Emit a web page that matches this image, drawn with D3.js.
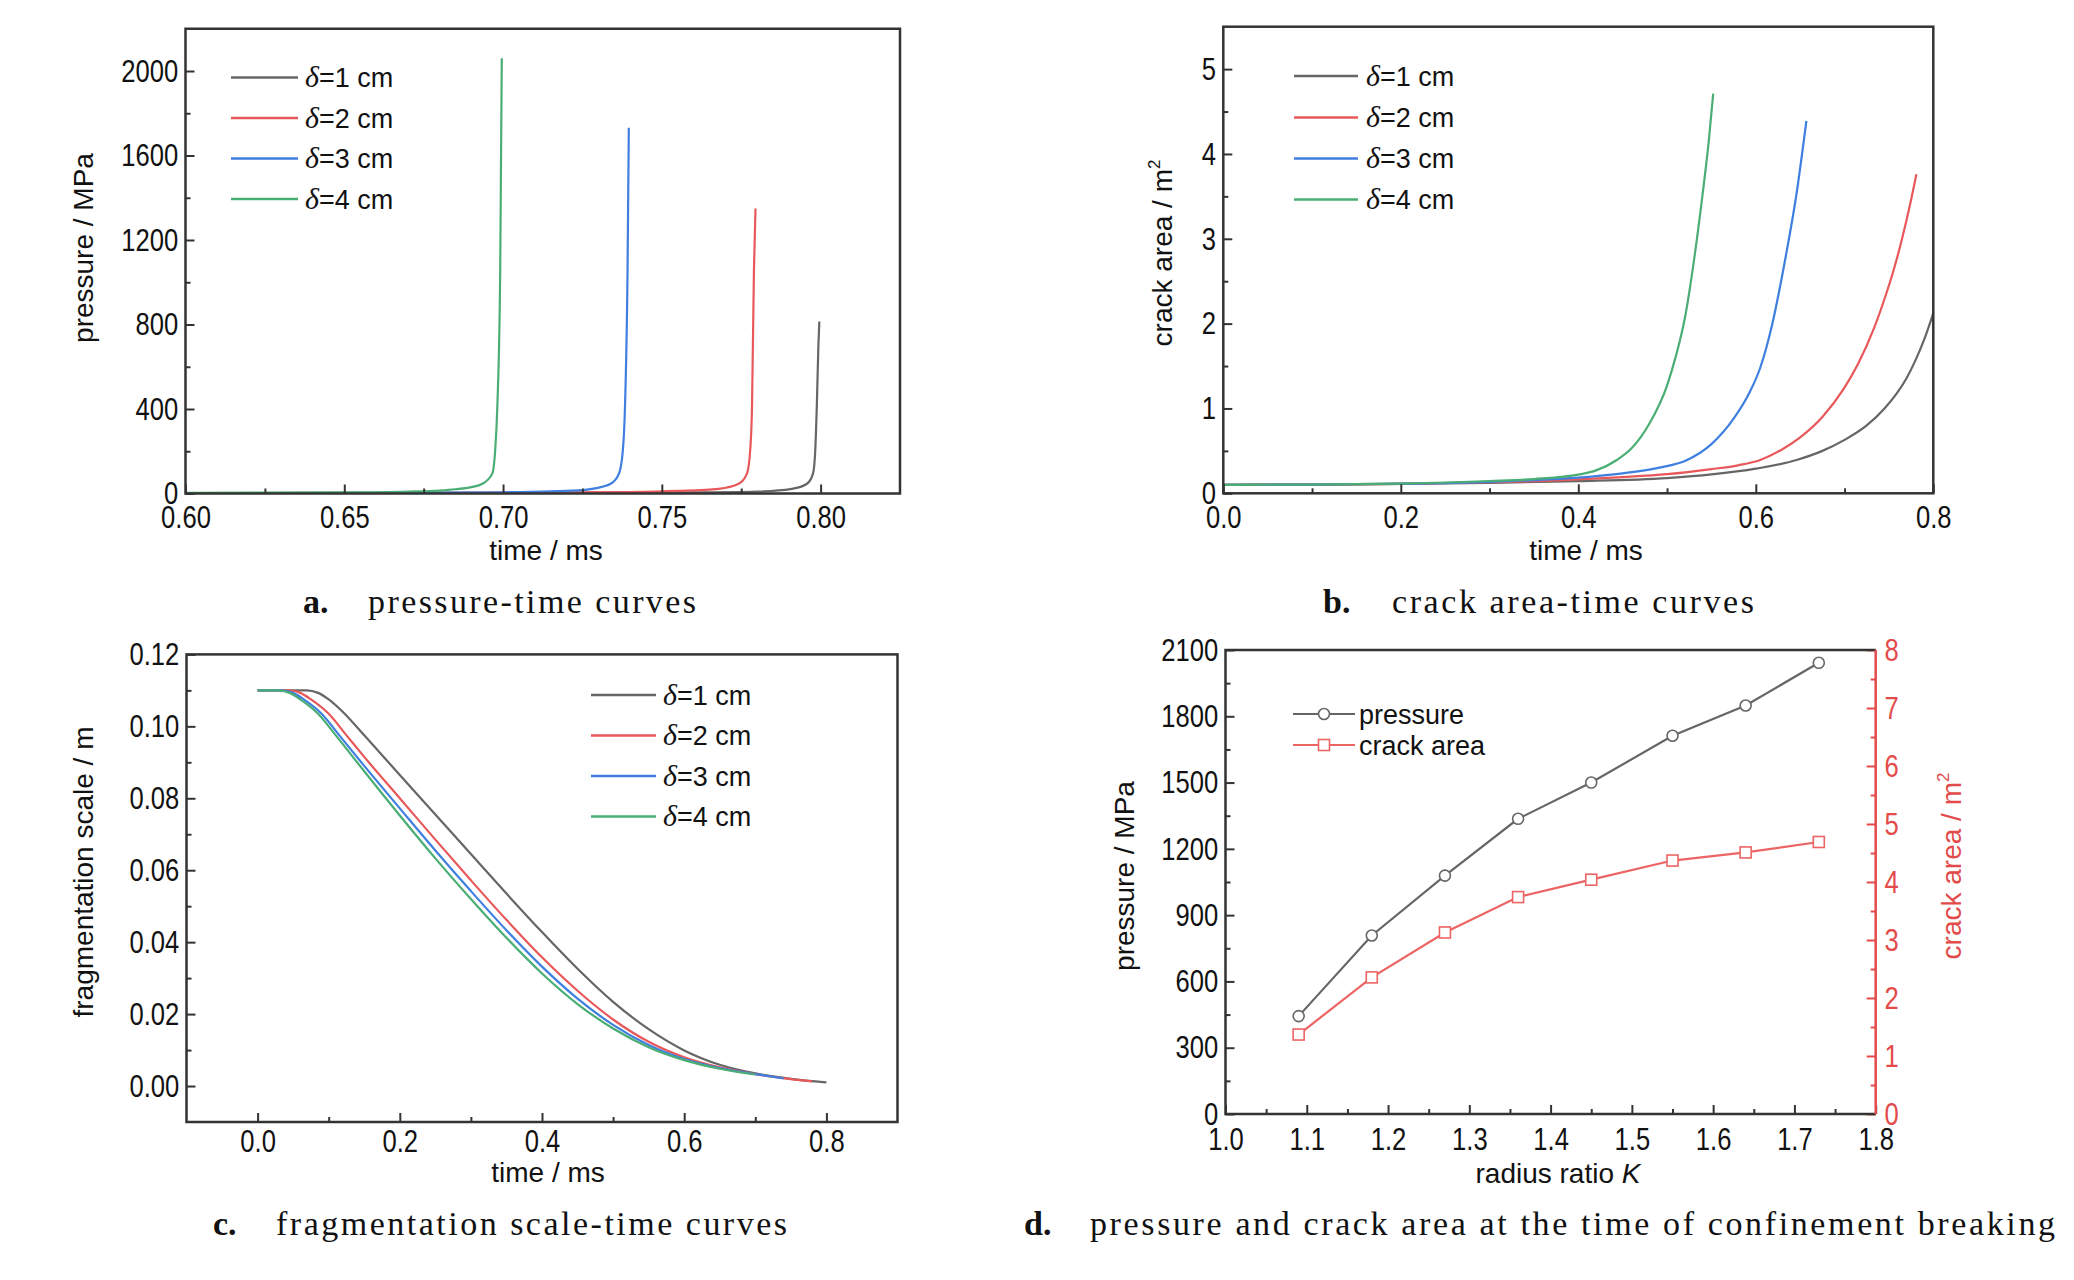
<!DOCTYPE html>
<html>
<head>
<meta charset="utf-8">
<script src="https://cdn.jsdelivr.net/npm/d3@7"></script>
<style>
  body { margin: 0; background: #fff; }
  svg { display: block; }
</style>
</head>
<body>
<svg id="fig" width="2074" height="1280"></svg>
<script>
// ---- data ----
const deltaLabels = ["1", "2", "3", "4"];

// a. pressure (MPa) vs time (ms)
const pressD1 = [[0.60,1],[0.70,2],[0.76,5],[0.78,9],[0.791,22],[0.7957,46],[0.7976,94],[0.7983,200],[0.7988,412],[0.7993,700],[0.7996,814]];
const pressD2 = [[0.60,1],[0.70,4],[0.74,7],[0.755,12],[0.7679,22],[0.7742,46],[0.7768,94],[0.7778,200],[0.7784,412],[0.7790,1051],[0.7795,1349]];
const pressD3 = [[0.60,2],[0.65,3],[0.70,6],[0.715,10],[0.725,16],[0.728,22],[0.7339,46],[0.7365,94],[0.7377,200],[0.7384,412],[0.7392,1051],[0.7396,1731]];
const pressD4 = [[0.60,3],[0.65,5],[0.67,9],[0.68,14],[0.685,20],[0.69,30],[0.6935,46],[0.6966,94],[0.6975,200],[0.6982,412],[0.6991,1051],[0.6996,2060]];

// b. crack area (m2) vs time (ms)
const areaD1 = [[0,0.10],[0.1,0.103],[0.2,0.11],[0.3,0.122],[0.4,0.143],[0.5,0.18],[0.55,0.222],[0.6,0.29],[0.646,0.393],[0.675,0.5],[0.7,0.63],[0.725,0.8],[0.745,1.0],[0.759,1.18],[0.77,1.36],[0.78,1.57],[0.79,1.82],[0.8,2.125]];
const areaD2 = [[0,0.10],[0.1,0.103],[0.2,0.112],[0.3,0.13],[0.4,0.163],[0.45,0.19],[0.5,0.225],[0.55,0.285],[0.58,0.33],[0.605,0.393],[0.63,0.52],[0.65,0.66],[0.675,0.9],[0.699,1.23],[0.715,1.52],[0.733,1.94],[0.745,2.29],[0.755,2.62],[0.765,3.01],[0.775,3.46],[0.781,3.76]];
const areaD3 = [[0,0.10],[0.1,0.103],[0.2,0.113],[0.3,0.135],[0.35,0.155],[0.4,0.185],[0.45,0.235],[0.49,0.30],[0.522,0.39],[0.55,0.58],[0.575,0.88],[0.5935,1.2],[0.605,1.48],[0.618,1.97],[0.633,2.75],[0.646,3.54],[0.657,4.39]];
const areaD4 = [[0,0.10],[0.1,0.103],[0.2,0.115],[0.3,0.145],[0.35,0.168],[0.4,0.22],[0.42,0.27],[0.443,0.39],[0.46,0.53],[0.48,0.82],[0.50,1.27],[0.51,1.62],[0.52,2.06],[0.53,2.72],[0.54,3.52],[0.547,4.15],[0.552,4.71]];

// c. fragmentation scale (m) vs time (ms)
const fragD1 = [[0,0.110],[0.069,0.110],[0.085,0.1093],[0.1,0.1075],[0.12,0.1040],[0.15,0.0975],[0.2,0.0865],[0.25,0.0755],[0.3,0.0645],[0.35,0.0535],[0.4,0.0428],[0.45,0.0326],[0.5,0.0234],[0.55,0.0158],[0.6,0.0099],[0.65,0.0059],[0.7,0.0035],[0.75,0.0020],[0.8,0.0010]];
const fragD2 = [[0,0.110],[0.045,0.110],[0.06,0.1093],[0.075,0.1075],[0.1,0.1035],[0.125,0.0975],[0.15,0.0915],[0.2,0.0800],[0.25,0.0685],[0.3,0.0572],[0.35,0.0462],[0.4,0.0358],[0.45,0.0265],[0.5,0.0185],[0.55,0.0123],[0.6,0.0080],[0.65,0.0052],[0.7,0.0033],[0.75,0.0019],[0.78,0.0013]];
const fragD3 = [[0,0.110],[0.034,0.110],[0.05,0.1093],[0.065,0.1075],[0.09,0.1035],[0.115,0.0975],[0.15,0.0890],[0.2,0.0772],[0.25,0.0655],[0.3,0.0542],[0.35,0.0433],[0.4,0.0332],[0.45,0.0243],[0.5,0.0170],[0.55,0.0114],[0.6,0.0075],[0.65,0.0050],[0.7,0.0033],[0.74,0.0021]];
const fragD4 = [[0,0.110],[0.028,0.110],[0.045,0.1093],[0.06,0.1075],[0.085,0.1035],[0.11,0.0975],[0.15,0.0875],[0.2,0.0752],[0.25,0.0633],[0.3,0.0520],[0.35,0.0412],[0.4,0.0313],[0.45,0.0228],[0.5,0.0160],[0.55,0.0108],[0.6,0.0072],[0.65,0.0048],[0.7,0.0032]];

// d. values at the time of confinement breaking
const radiusRatio = [1.09, 1.18, 1.27, 1.36, 1.45, 1.55, 1.64, 1.73];
const breakPressure = [443, 808, 1079, 1336, 1500, 1712, 1849, 2042];
const breakCrackArea = [1.37, 2.355, 3.13, 3.74, 4.04, 4.37, 4.51, 4.69];

// tick values
const ticksA = { xMajor: [0.60,0.65,0.70,0.75,0.80], xMinor: [0.625,0.675,0.725,0.775], yMajor: [0,400,800,1200,1600,2000], yMinor: [200,600,1000,1400,1800] };
const ticksB = { xMajor: [0,0.2,0.4,0.6,0.8], xMinor: [0.1,0.3,0.5,0.7], yMajor: [0,1,2,3,4,5], yMinor: [0.5,1.5,2.5,3.5,4.5] };
const ticksC = { xMajor: [0,0.2,0.4,0.6,0.8], xMinor: [0.1,0.3,0.5,0.7], yMajor: [0,0.02,0.04,0.06,0.08,0.10,0.12], yMinor: [0.01,0.03,0.05,0.07,0.09,0.11] };
const ticksD = { xMajor: [1.0,1.1,1.2,1.3,1.4,1.5,1.6,1.7,1.8], xMinor: [1.05,1.15,1.25,1.35,1.45,1.55,1.65,1.75],
                 yMajor: [0,300,600,900,1200,1500,1800,2100], yMinor: [150,450,750,1050,1350,1650,1950],
                 rMajor: [0,1,2,3,4,5,6,7,8], rMinor: [0.5,1.5,2.5,3.5,4.5,5.5,6.5,7.5] };

// ---- drawing ----
const SANS = '"Liberation Sans", Arial, Helvetica, sans-serif';
const SERIF = '"Liberation Serif", "Times New Roman", serif';
const TICK_FS = 32;
const NARROW = 0.8;            // tick labels are set in a condensed face
const AXIS = '#333';
const colors = ['#666666', '#e8585a', '#3f7fe0', '#4aae74'];
const redAxis = '#e34b4b';

const svg = d3.select('#fig');
svg.append('rect').attr('width', 2074).attr('height', 1280).attr('fill', '#fff');

function styleAxis(g, color) {
    g.selectAll('.domain').remove();
    g.selectAll('line').attr('stroke', color).attr('stroke-width', 2);
    g.selectAll('text')
        .attr('font-family', SANS)
        .attr('font-size', TICK_FS)
        .attr('fill', color === AXIS ? '#111' : color)
        .attr('transform', `scale(${NARROW},1)`);
}

function drawAxes(g, x, y, t, o) {
    const y0 = y.range()[0], x0 = x.range()[0];
    const bottom = g.append('g').attr('transform', `translate(0,${y0})`);
    bottom.append('g').call(d3.axisBottom(x).tickValues(t.xMinor).tickSize(-5).tickSizeOuter(0).tickFormat(''));
    bottom.append('g').call(d3.axisBottom(x).tickValues(t.xMajor).tickSize(-9).tickSizeOuter(0)
        .tickPadding(o.xPad).tickFormat(d3.format(o.xFmt)));
    styleAxis(bottom, AXIS);

    const left = g.append('g').attr('transform', `translate(${x0},0)`);
    left.append('g').call(d3.axisLeft(y).tickValues(t.yMinor).tickSize(-5).tickSizeOuter(0).tickFormat(''));
    left.append('g').call(d3.axisLeft(y).tickValues(t.yMajor).tickSize(-9).tickSizeOuter(0)
        .tickPadding(9).tickFormat(d3.format(o.yFmt)));
    styleAxis(left, AXIS);
}

function frame(g, x, y) {
    g.append('rect')
        .attr('x', x.range()[0]).attr('y', y.range()[1])
        .attr('width', x.range()[1] - x.range()[0])
        .attr('height', y.range()[0] - y.range()[1])
        .attr('fill', 'none').attr('stroke', AXIS).attr('stroke-width', 2.5);
}

function clipFor(id, x, y) {
    svg.append('clipPath').attr('id', id).append('rect')
        .attr('x', x.range()[0]).attr('y', y.range()[1])
        .attr('width', x.range()[1] - x.range()[0])
        .attr('height', y.range()[0] - y.range()[1]);
    return `url(#${id})`;
}

function curves(g, x, y, list, clip) {
    const line = d3.line().x(d => x(d[0])).y(d => y(d[1])).curve(d3.curveMonotoneX);
    const cg = g.append('g').attr('clip-path', clip);
    list.forEach((pts, i) => {
        cg.append('path').attr('d', line(pts))
            .attr('fill', 'none').attr('stroke', colors[i]).attr('stroke-width', 2.2);
    });
}

function deltaLegend(g, lx0, lx1, tx, rows) {
    deltaLabels.forEach((lab, i) => {
        g.append('line').attr('x1', lx0).attr('x2', lx1).attr('y1', rows[i]).attr('y2', rows[i])
            .attr('stroke', colors[i]).attr('stroke-width', 2.6);
        const t = g.append('text').attr('x', tx).attr('y', rows[i] + 9.5)
            .attr('font-family', SANS).attr('font-size', 27).attr('fill', '#111');
        t.append('tspan').attr('font-family', SERIF).attr('font-style', 'italic').attr('font-size', 30).text('δ');
        t.append('tspan').text(`=${lab} cm`);
    });
}

function xTitle(g, cx, by, parts) {
    const t = g.append('text').attr('x', cx).attr('y', by).attr('text-anchor', 'middle')
        .attr('font-family', SANS).attr('font-size', 28).attr('fill', '#111');
    parts.forEach(p => t.append('tspan').attr('font-style', p.italic ? 'italic' : null).text(p.s));
}

function yTitle(g, bx, cy, parts, color) {
    const t = g.append('text').attr('transform', `translate(${bx},${cy}) rotate(-90)`)
        .attr('text-anchor', 'middle').attr('font-family', SANS).attr('font-size', 28)
        .attr('fill', color || '#111');
    parts.forEach(p => {
        const s = t.append('tspan').text(p.s);
        if (p.sup) s.attr('font-size', 17).attr('dy', -12);
    });
}

function caption(letter, lx, tx, tw, by, text) {
    svg.append('text').attr('x', lx).attr('y', by).attr('font-family', SERIF)
        .attr('font-weight', 'bold').attr('font-size', 34).attr('fill', '#111').text(letter);
    svg.append('text').attr('x', tx).attr('y', by).attr('font-family', SERIF)
        .attr('font-size', 34).attr('fill', '#111')
        .attr('textLength', tw).attr('lengthAdjust', 'spacing').text(text);
}

// ---- panel a ----
{
    const g = svg.append('g');
    const x = d3.scaleLinear().domain([0.6, 0.825]).range([185.5, 900]);
    const y = d3.scaleLinear().domain([0, 2200]).range([493.5, 28.75]);
    curves(g, x, y, [pressD1, pressD2, pressD3, pressD4], clipFor('clipA', x, y));
    drawAxes(g, x, y, ticksA, { xPad: 11.5, xFmt: '.2f', yFmt: 'd' });
    frame(g, x, y);
    deltaLegend(g, 231, 298, 305, [77.5, 118, 158.5, 199]);
    xTitle(g, 546, 560, [{ s: 'time / ms' }]);
    yTitle(g, 93, 248, [{ s: 'pressure / MPa' }]);
    caption('a.', 303, 368, 328, 613, 'pressure-time curves');
}

// ---- panel b ----
{
    const g = svg.append('g');
    const x = d3.scaleLinear().domain([0, 0.8]).range([1223.3, 1933.3]);
    const y = d3.scaleLinear().domain([0, 5.5]).range([493.3, 26.7]);
    curves(g, x, y, [areaD1, areaD2, areaD3, areaD4], clipFor('clipB', x, y));
    drawAxes(g, x, y, ticksB, { xPad: 11.5, xFmt: '.1f', yFmt: 'd' });
    frame(g, x, y);
    deltaLegend(g, 1294, 1358, 1366, [76, 117.5, 158.5, 199.5]);
    xTitle(g, 1586, 560, [{ s: 'time / ms' }]);
    yTitle(g, 1172, 253, [{ s: 'crack area / m' }, { s: '2', sup: true }]);
    caption('b.', 1323, 1392, 362, 613, 'crack area-time curves');
}

// ---- panel c ----
{
    const g = svg.append('g');
    const x = d3.scaleLinear().domain([-0.1, 0.9]).range([186.5, 897.5]);
    const y = d3.scaleLinear().domain([-0.01, 0.12]).range([1122, 654.4]);
    curves(g, x, y, [fragD1, fragD2, fragD3, fragD4], clipFor('clipC', x, y));
    drawAxes(g, x, y, ticksC, { xPad: 7, xFmt: '.1f', yFmt: '.2f' });
    frame(g, x, y);
    deltaLegend(g, 591, 656, 663, [695, 735.5, 776, 816.5]);
    xTitle(g, 548, 1182, [{ s: 'time / ms' }]);
    yTitle(g, 93, 872, [{ s: 'fragmentation scale / m' }]);
    caption('c.', 213, 276, 511, 1235, 'fragmentation scale-time curves');
}

// ---- panel d ----
{
    const g = svg.append('g');
    const x = d3.scaleLinear().domain([1.0, 1.8]).range([1225.5, 1875.7]);
    const y = d3.scaleLinear().domain([0, 2100]).range([1114, 650]);
    const yr = d3.scaleLinear().domain([0, 8]).range([1114, 650]);
    drawAxes(g, x, y, ticksD, { xPad: 13.5, xFmt: '.1f', yFmt: 'd' });

    const right = g.append('g').attr('transform', `translate(${x.range()[1]},0)`);
    right.append('g').call(d3.axisRight(yr).tickValues(ticksD.rMinor).tickSize(-5).tickSizeOuter(0).tickFormat(''));
    right.append('g').call(d3.axisRight(yr).tickValues(ticksD.rMajor).tickSize(-9).tickSizeOuter(0)
        .tickPadding(11).tickFormat(d3.format('d')));
    styleAxis(right, redAxis);

    const [X0, X1] = x.range(), [Y0, Y1] = y.range();
    g.append('path').attr('d', `M${X1},${Y1}H${X0}V${Y0}H${X1}`)
        .attr('fill', 'none').attr('stroke', AXIS).attr('stroke-width', 2.5);
    g.append('line').attr('x1', X1).attr('x2', X1).attr('y1', Y1).attr('y2', Y0)
        .attr('stroke', redAxis).attr('stroke-width', 2.5);

    const pts = radiusRatio.map((k, i) => ({ k, p: breakPressure[i], a: breakCrackArea[i] }));
    const lineP = d3.line().x(d => x(d.k)).y(d => y(d.p));
    const lineA = d3.line().x(d => x(d.k)).y(d => yr(d.a));
    const gray = '#666', red = '#ec6464';
    g.append('path').attr('d', lineP(pts)).attr('fill', 'none').attr('stroke', gray).attr('stroke-width', 2.2);
    g.append('path').attr('d', lineA(pts)).attr('fill', 'none').attr('stroke', red).attr('stroke-width', 2.2);
    g.selectAll('circle.pm').data(pts).join('circle').attr('class', 'pm')
        .attr('cx', d => x(d.k)).attr('cy', d => y(d.p)).attr('r', 5.5)
        .attr('fill', '#fff').attr('stroke', gray).attr('stroke-width', 1.6);
    g.selectAll('rect.am').data(pts).join('rect').attr('class', 'am')
        .attr('x', d => x(d.k) - 5.5).attr('y', d => yr(d.a) - 5.5).attr('width', 11).attr('height', 11)
        .attr('fill', '#fff').attr('stroke', red).attr('stroke-width', 1.6);

    // legend
    const rows = [714, 745];
    g.append('line').attr('x1', 1293).attr('x2', 1355).attr('y1', rows[0]).attr('y2', rows[0]).attr('stroke', gray).attr('stroke-width', 2.2);
    g.append('circle').attr('cx', 1324).attr('cy', rows[0]).attr('r', 5.5).attr('fill', '#fff').attr('stroke', gray).attr('stroke-width', 1.6);
    g.append('line').attr('x1', 1293).attr('x2', 1355).attr('y1', rows[1]).attr('y2', rows[1]).attr('stroke', red).attr('stroke-width', 2.2);
    g.append('rect').attr('x', 1318.5).attr('y', rows[1] - 5.5).attr('width', 11).attr('height', 11).attr('fill', '#fff').attr('stroke', red).attr('stroke-width', 1.6);
    ['pressure', 'crack area'].forEach((s, i) => {
        g.append('text').attr('x', 1359).attr('y', rows[i] + 9.5).attr('font-family', SANS)
            .attr('font-size', 27).attr('fill', '#111').text(s);
    });

    xTitle(g, 1558, 1183, [{ s: 'radius ratio ' }, { s: 'K', italic: true }]);
    yTitle(g, 1134, 876, [{ s: 'pressure / MPa' }]);
    yTitle(g, 1961, 866, [{ s: 'crack area / m' }, { s: '2', sup: true }], redAxis);
    caption('d.', 1024, 1090, 965, 1235, 'pressure and crack area at the time of confinement breaking');
}
</script>
</body>
</html>
